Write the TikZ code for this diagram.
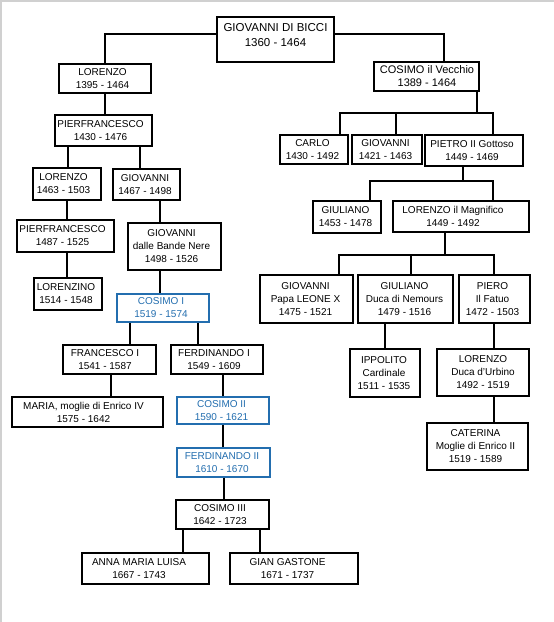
\documentclass[tikz,border=0pt]{standalone}
\usepackage{fontspec}
\setmainfont{Liberation Sans}
\definecolor{medblue}{RGB}{35,110,175}
\definecolor{edgegray}{RGB}{208,208,208}
\begin{document}
\begin{tikzpicture}[x=1pt,y=-1pt,
  box/.style={draw=black, line width=1.7pt, inner sep=0pt, fill=white},
  bbox/.style={box, draw=medblue},
  lbl/.style={align=center, font=\fontsize{10}{13}\selectfont, inner sep=0pt, text=black},
  blbl/.style={lbl, text=medblue},
  conn/.style={line width=1.7pt}]
\useasboundingbox (0,0) rectangle (554,622);
\fill[white] (0,0) rectangle (554,622);
\draw[edgegray, line width=2pt] (1,622) -- (1,1) -- (554,1);

% ---- nodes ----
\node[box, minimum width=117, minimum height=45,
  label={[lbl, font=\fontsize{11.5}{15}\selectfont, yshift=4pt]center:{GIOVANNI DI BICCI\\1360 - 1464}}] (gdb) at (275.5,39.5) {};
\node[box, minimum width=92, minimum height=29,
  label={[lbl, xshift=-2.5pt]center:{LORENZO\\1395 - 1464}}] (lor1) at (105,78.5) {};
\node[box, minimum width=97, minimum height=31,
  label={[lbl, xshift=-3pt]center:{PIERFRANCESCO\\1430 - 1476}}] (pf1) at (103.5,130.5) {};
\node[box, minimum width=68, minimum height=32,
  label={[lbl, xshift=-3.5pt]center:{LORENZO\\1463 - 1503}}] (lor2) at (67,184) {};
\node[box, minimum width=67, minimum height=31,
  label={[lbl, xshift=-1.5pt]center:{GIOVANNI\\1467 - 1498}}] (gio2) at (146.5,184.5) {};
\node[box, minimum width=97, minimum height=32,
  label={[lbl, xshift=-3pt]center:{PIERFRANCESCO\\1487 - 1525}}] (pf2) at (65.5,236) {};
\node[box, minimum width=93, minimum height=47,
  label={[lbl, xshift=-3pt]center:{GIOVANNI\\dalle Bande Nere\\1498 - 1526}}] (gbn) at (174.5,246.5) {};
\node[box, minimum width=68, minimum height=32,
  label={[lbl, xshift=-2pt]center:{LORENZINO\\1514 - 1548}}] (lzn) at (68,294) {};
\node[bbox, minimum width=92, minimum height=28,
  label={[blbl, xshift=-2pt]center:{COSIMO I\\1519 - 1574}}] (cos1) at (163,308) {};
\node[box, minimum width=93, minimum height=29,
  label={[lbl, xshift=-4.5pt]center:{FRANCESCO I\\1541 - 1587}}] (fra1) at (109.5,359.5) {};
\node[box, minimum width=92, minimum height=29,
  label={[lbl, xshift=-3pt]center:{FERDINANDO I\\1549 - 1609}}] (fer1) at (217,359.5) {};
\node[box, minimum width=151, minimum height=30,
  label={[lbl, xshift=-4pt]center:{MARIA, moglie di Enrico IV\\1575 - 1642}}] (maria) at (87.5,412) {};
\node[bbox, minimum width=92, minimum height=27,
  label={[blbl, xshift=-1.5pt]center:{COSIMO II\\1590 - 1621}}] (cos2) at (223,410.5) {};
\node[bbox, minimum width=93, minimum height=29,
  label={[blbl, xshift=-1.5pt]center:{FERDINANDO II\\1610 - 1670}}] (fer2) at (223.5,462.5) {};
\node[box, minimum width=93, minimum height=29,
  label={[lbl, xshift=-2.5pt]center:{COSIMO III\\1642 - 1723}}] (cos3) at (222.5,514.5) {};
\node[box, minimum width=127, minimum height=31,
  label={[lbl, xshift=-6.5pt]center:{ANNA MARIA LUISA\\1667 - 1743}}] (anna) at (145.5,568.5) {};
\node[box, minimum width=128, minimum height=31,
  label={[lbl, xshift=-6.5pt]center:{GIAN GASTONE\\1671 - 1737}}] (gian) at (294,568.5) {};

\node[box, minimum width=105, minimum height=29,
  label={[lbl, font=\fontsize{11}{13}\selectfont, xshift=0.5pt]center:{COSIMO il Vecchio\\1389 - 1464}}] (cv) at (426.5,76.5) {};
\node[box, minimum width=68, minimum height=29,
  label={[lbl, xshift=-1.5pt]center:{CARLO\\1430 - 1492}}] (carlo) at (314,149.5) {};
\node[box, minimum width=70, minimum height=29,
  label={[lbl, xshift=-1.5pt]center:{GIOVANNI\\1421 - 1463}}] (gio3) at (387,149.5) {};
\node[box, minimum width=98, minimum height=31,
  label={[lbl, xshift=-2pt]center:{PIETRO II Gottoso\\1449 - 1469}}] (pie) at (474,150.5) {};
\node[box, minimum width=68, minimum height=32,
  label={[lbl, xshift=-1.5pt]center:{GIULIANO\\1453 - 1478}}] (giu1) at (347,217) {};
\node[box, minimum width=136, minimum height=31,
  label={[lbl, xshift=-8pt]center:{LORENZO il Magnifico\\1449 - 1492}}] (lm) at (461,216.5) {};
\node[box, minimum width=93, minimum height=48,
  label={[lbl, xshift=-1pt]center:{GIOVANNI\\Papa LEONE X\\1475 - 1521}}] (leo) at (306.5,299) {};
\node[box, minimum width=95, minimum height=48,
  label={[lbl, xshift=-1pt]center:{GIULIANO\\Duca di Nemours\\1479 - 1516}}] (gdn) at (405.5,299) {};
\node[box, minimum width=71, minimum height=48,
  label={[lbl, xshift=-2pt]center:{PIERO\\Il Fatuo\\1472 - 1503}}] (piero) at (494.5,299) {};
\node[box, minimum width=70, minimum height=48,
  label={[lbl, xshift=-1pt]center:{IPPOLITO\\Cardinale\\1511 - 1535}}] (ipp) at (385,373) {};
\node[box, minimum width=92, minimum height=47,
  label={[lbl]center:{LORENZO\\Duca d'Urbino\\1492 - 1519}}] (ldu) at (483,372.5) {};
\node[box, minimum width=101, minimum height=47,
  label={[lbl, xshift=-2pt]center:{CATERINA\\Moglie di Enrico II\\1519 - 1589}}] (cat) at (477.5,446.5) {};

% ---- junction rows ----
\coordinate (r0) at (0,34);
\coordinate (r1) at (0,113);
\coordinate (r2) at (0,181);
\coordinate (r3) at (0,255);

% ---- connectors ----
\draw[conn] (gdb.west |- r0) -| (lor1.north -| 105,0);
\draw[conn] (gdb.east |- r0) -| (cv.north -| 444,0);
\draw[conn] (lor1.south -| 105,0) -- (pf1.north -| 105,0);
\draw[conn] (pf1.south -| 68,0) -- (lor2.north -| 68,0);
\draw[conn] (pf1.south -| 140,0) -- (gio2.north -| 140,0);
\draw[conn] (lor2.south -| 67,0) -- (pf2.north -| 67,0);
\draw[conn] (gio2.south -| 160,0) -- (gbn.north -| 160,0);
\draw[conn] (pf2.south -| 67,0) -- (lzn.north -| 67,0);
\draw[conn] (gbn.south -| 160,0) -- (cos1.north -| 160,0);
\draw[conn] (cos1.south -| 130,0) -- (fra1.north -| 130,0);
\draw[conn] (cos1.south -| 198,0) -- (fer1.north -| 198,0);
\draw[conn] (fra1.south -| 111,0) -- (maria.north -| 111,0);
\draw[conn] (fer1.south -| 223,0) -- (cos2.north -| 223,0);
\draw[conn] (cos2.south -| 223,0) -- (fer2.north -| 223,0);
\draw[conn] (fer2.south -| 224,0) -- (cos3.north -| 224,0);
\draw[conn] (cos3.south -| 183,0) -- (anna.north -| 183,0);
\draw[conn] (cos3.south -| 260,0) -- (gian.north -| 260,0);

\draw[conn] (cv.south -| 477,0) -- (r1 -| 477,0);
\draw[conn] (carlo.north -| 340,0) -- (r1 -| 340,0) -- (r1 -| 493,0) -- (pie.north -| 493,0);
\draw[conn] (gio3.north -| 396,0) -- (r1 -| 396,0);

\draw[conn] (pie.south -| 463,0) -- (r2 -| 463,0);
\draw[conn] (giu1.north -| 370,0) -- (r2 -| 370,0) -- (r2 -| 493,0) -- (lm.north -| 493,0);

\draw[conn] (lm.south -| 445,0) -- (r3 -| 445,0);
\draw[conn] (leo.north -| 339,0) -- (r3 -| 339,0) -- (r3 -| 494,0) -- (piero.north -| 494,0);
\draw[conn] (gdn.north -| 411,0) -- (r3 -| 411,0);

\draw[conn] (gdn.south -| 385,0) -- (ipp.north -| 385,0);
\draw[conn] (piero.south -| 494,0) -- (ldu.north -| 494,0);
\draw[conn] (ldu.south -| 494,0) -- (cat.north -| 494,0);
\end{tikzpicture}
\end{document}
